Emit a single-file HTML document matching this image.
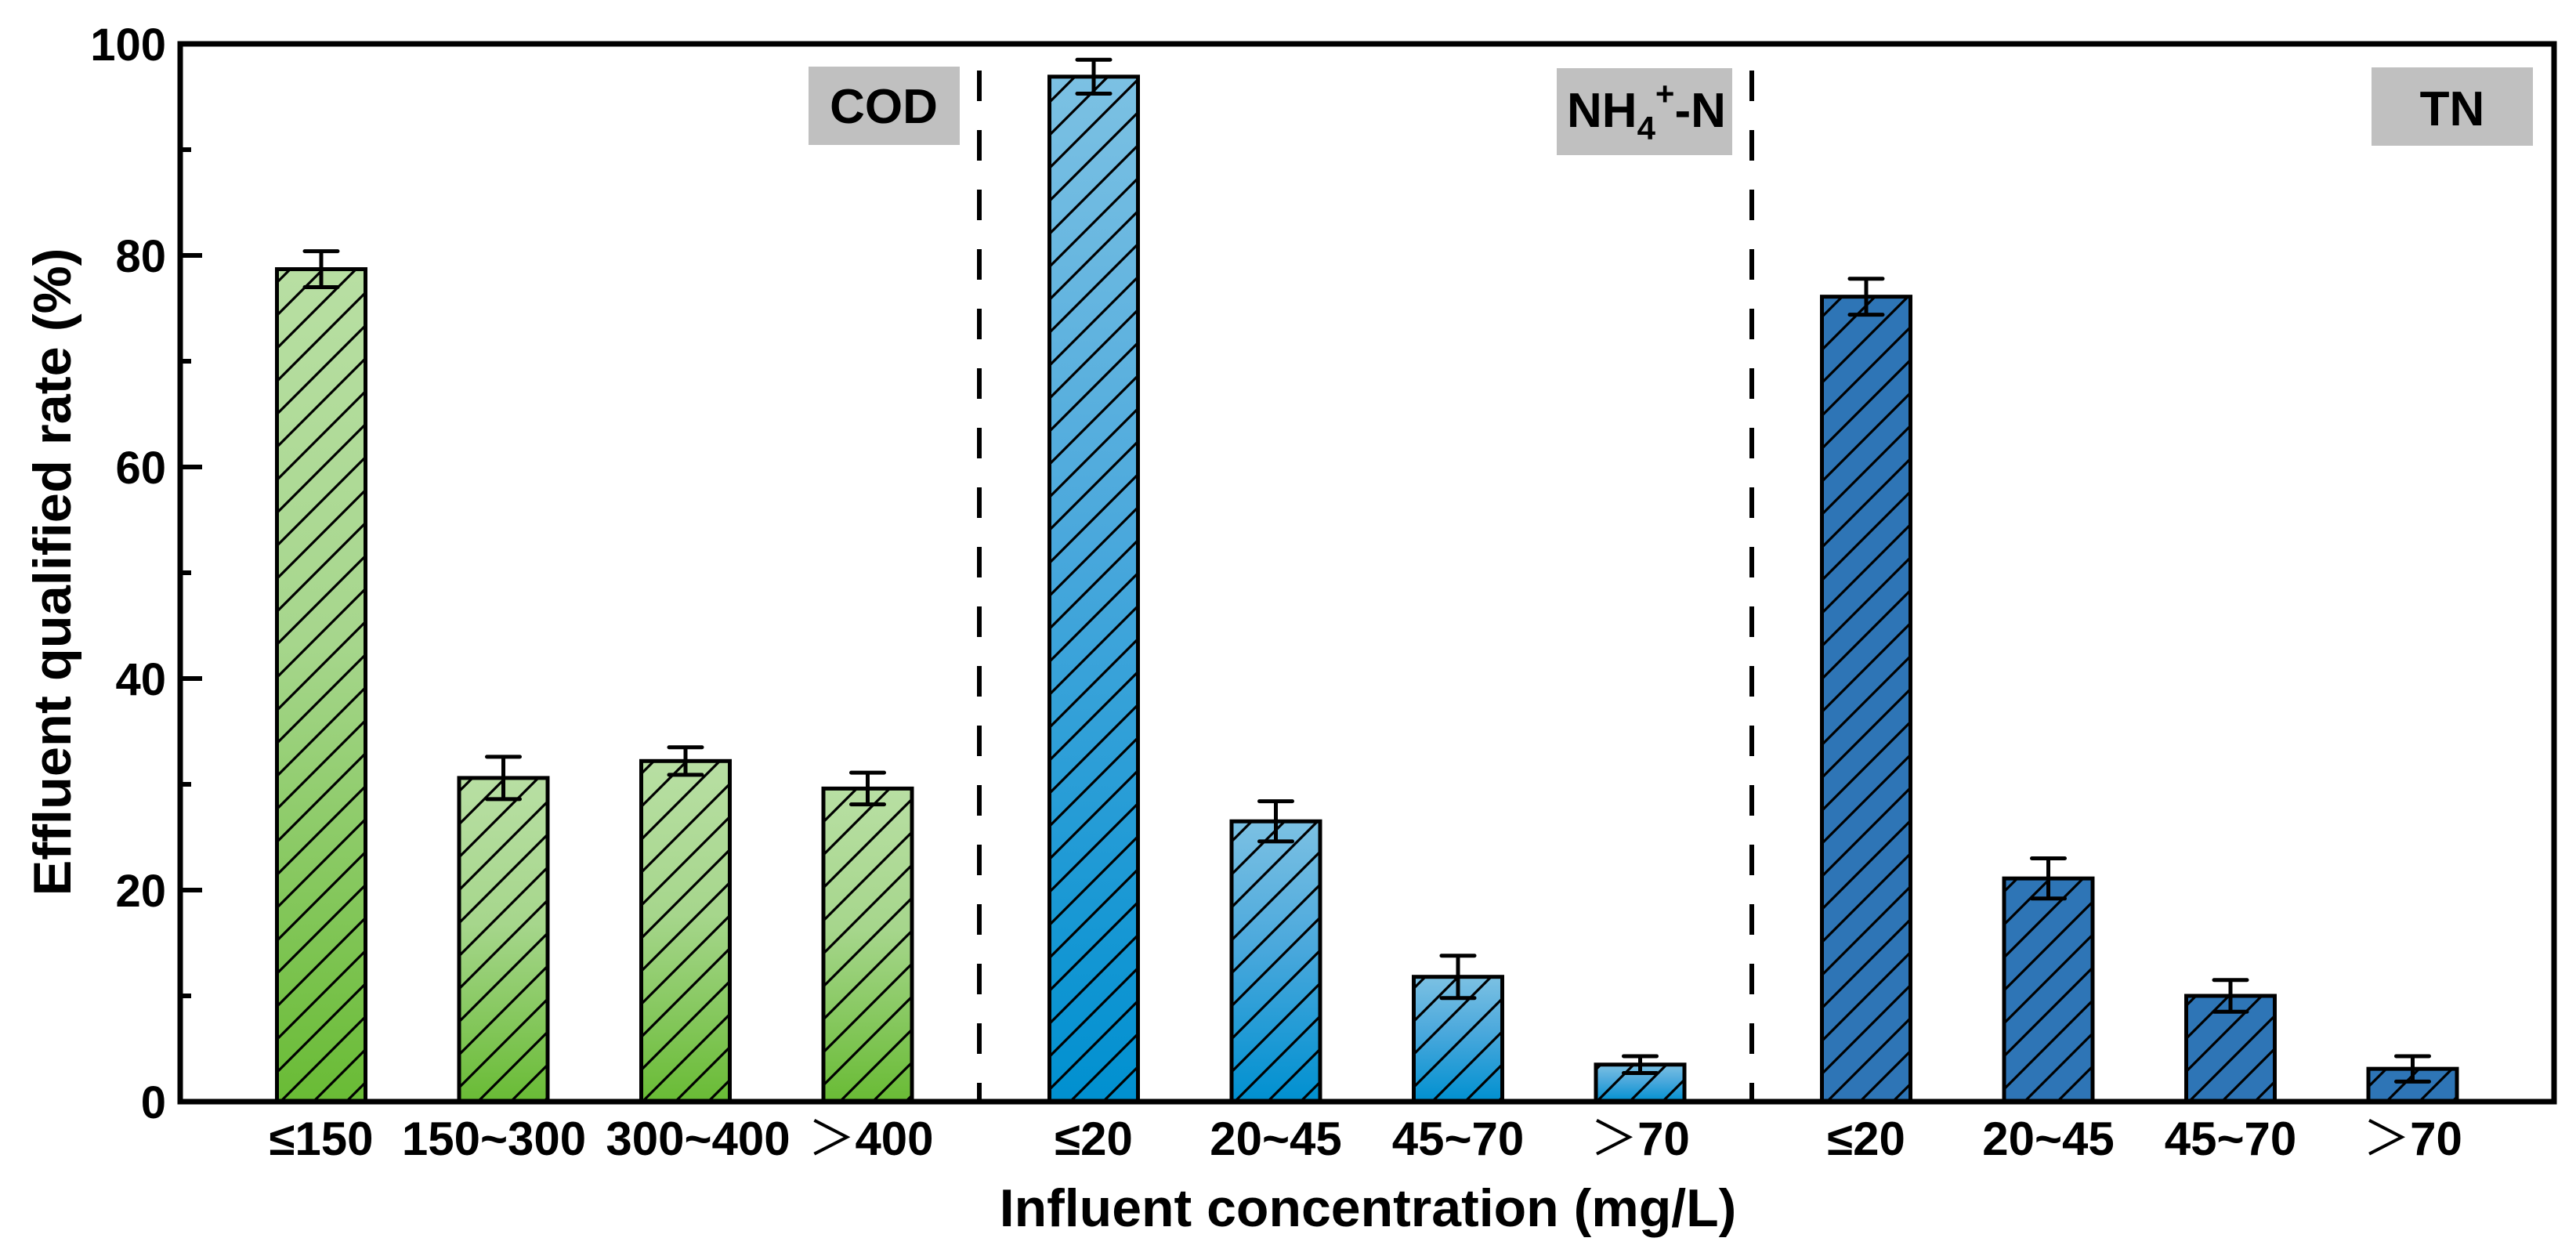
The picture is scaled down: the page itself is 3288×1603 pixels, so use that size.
<!DOCTYPE html>
<html><head><meta charset="utf-8"><style>
html,body{margin:0;padding:0;background:#fff;}
svg{display:block;font-family:"Liberation Sans",Arial,sans-serif;}
</style></head><body>
<svg id="chart" width="3288" height="1603" viewBox="0 0 3288 1603" xmlns="http://www.w3.org/2000/svg">
<defs>
<linearGradient id="gCOD" x1="0" y1="0" x2="0" y2="1"><stop offset="0" stop-color="#b8dfa3"/><stop offset="0.45" stop-color="#a6d68c"/><stop offset="1" stop-color="#69bb35"/></linearGradient>
<linearGradient id="gNH" x1="0" y1="0" x2="0" y2="1"><stop offset="0" stop-color="#7cc1e3"/><stop offset="0.45" stop-color="#4aa8dc"/><stop offset="1" stop-color="#0090d0"/></linearGradient>
<linearGradient id="gTN" x1="0" y1="0" x2="0" y2="1"><stop offset="0" stop-color="#2e75b6"/><stop offset="1" stop-color="#2e75b6"/></linearGradient>
<pattern id="hatch" patternUnits="userSpaceOnUse" width="42" height="42">
<path d="M-4,46 L46,-4 M-25,25 L25,-25 M17,67 L67,17" stroke="#000" stroke-width="3.2"/>
</pattern>
</defs>
<g id="plot"></g>
</svg>
<script>
const categories = ["≤150","150~300","300~400","＞400","≤20","20~45","45~70","＞70","≤20","20~45","45~70","＞70"];
const groups = ["COD","COD","COD","COD","NH","NH","NH","NH","TN","TN","TN","TN"];
const values = [78.7, 30.6, 32.2, 29.6, 96.9, 26.5, 11.8, 3.5, 76.1, 21.1, 10.0, 3.1];
const errors = [1.7, 2.0, 1.3, 1.5, 1.6, 1.9, 2.0, 0.8, 1.7, 1.9, 1.5, 1.2];
const yTicks = [0,20,40,60,80,100];
const yMinor = [10,30,50,70,90];

const NS="http://www.w3.org/2000/svg";
const g=document.getElementById('plot');
const X0=230,X1=3260,Y0=1406,Y1=56;
const labelNudge=[0,-12,16,4,0,0,0,0,0,0,0,0];
function yS(v){return Y0-(Y0-Y1)*v/100;}
function xS(i){const grp=Math.floor(i/4),k=i%4;return 410+k*232.5+grp*986;}
const BW=113;
function el(t,a,p){const e=document.createElementNS(NS,t);for(const k in a)e.setAttribute(k,a[k]);(p||g).appendChild(e);return e;}

for(let i=0;i<values.length;i++){
  const cx=xS(i),top=yS(values[i]),h=Y0-top;
  const fill=el('rect',{x:cx-BW/2,y:top,width:BW,height:h,fill:'url(#g'+groups[i]+')'});
  
  
  const ht=el('rect',{x:cx-BW/2,y:top,width:BW,height:h,fill:'url(#hatch)',stroke:'#000','stroke-width':5});
  
  
  const eu=yS(values[i]+errors[i]),ed=yS(values[i]-errors[i]);
  const eb=el('path',{d:`M${cx},${eu}V${ed}M${cx-21},${eu}H${cx+21}M${cx-21},${ed}H${cx+21}`,stroke:'#000','stroke-width':5,'stroke-linecap':'round',fill:'none'});
  
  
  const t=el('text',{x:cx+labelNudge[i],y:1474,'text-anchor':'middle','font-size':60,'font-weight':'bold'});
  t.textContent=categories[i];
  if(categories[i].startsWith('＞')){
    t.textContent='';
    const s1=el('tspan',{'font-family':'"Noto Sans CJK SC",sans-serif','font-weight':'normal'},t);s1.textContent='＞';
    const s2=el('tspan',{},t);s2.textContent=categories[i].slice(1);
  }
  
  
}
[1250,2236].forEach(x=>{
  const d=el('line',{x1:x,x2:x,y1:90,y2:Y0,stroke:'#000','stroke-width':6,'stroke-dasharray':'39 37'});
  
  
});
const fr=el('rect',{x:X0,y:Y1,width:X1-X0,height:Y0-Y1,fill:'none',stroke:'#000','stroke-width':7});


yTicks.forEach(v=>{
  const tk=el('line',{x1:X0,x2:X0+28,y1:yS(v),y2:yS(v),stroke:'#000','stroke-width':6});
  
  
  const t=el('text',{x:212,y:yS(v)+21,'text-anchor':'end','font-size':58,'font-weight':'bold'});
  t.textContent=v;
  
  
});
yMinor.forEach(v=>{
  const tk=el('line',{x1:X0,x2:X0+14,y1:yS(v),y2:yS(v),stroke:'#000','stroke-width':6});
  
  
});
function box(x,y,w,h,name){const r=el('rect',{x:x,y:y,width:w,height:h,fill:'#c0c0c0'});}
box(1032,85,193,100,'cod-label-box');
box(1987,87,224,111,'nh4-label-box');
box(3027,86,206,100,'tn-label-box');
let t=el('text',{x:1128,y:157,'text-anchor':'middle','font-size':62,'font-weight':'bold'});t.textContent='COD';


t=el('text',{x:2000,y:162,'font-size':62,'font-weight':'bold'});


let s=el('tspan',{},t);s.textContent='NH';
s=el('tspan',{dy:16,'font-size':42},t);s.textContent='4';
s=el('tspan',{dy:-44,'font-size':42},t);s.textContent='+';
s=el('tspan',{dy:28},t);s.textContent='-N';
t=el('text',{x:3130,y:160,'text-anchor':'middle','font-size':62,'font-weight':'bold'});t.textContent='TN';


t=el('text',{x:1746,y:1565,'text-anchor':'middle','font-size':68,'font-weight':'bold'});t.textContent='Influent concentration (mg/L)';


t=el('text',{x:0,y:0,'text-anchor':'middle','font-size':68,'font-weight':'bold',transform:'translate(90,730) rotate(-90)',textLength:827,lengthAdjust:'spacingAndGlyphs'});t.textContent='Effluent qualified rate (%)';


</script>
</body></html>
